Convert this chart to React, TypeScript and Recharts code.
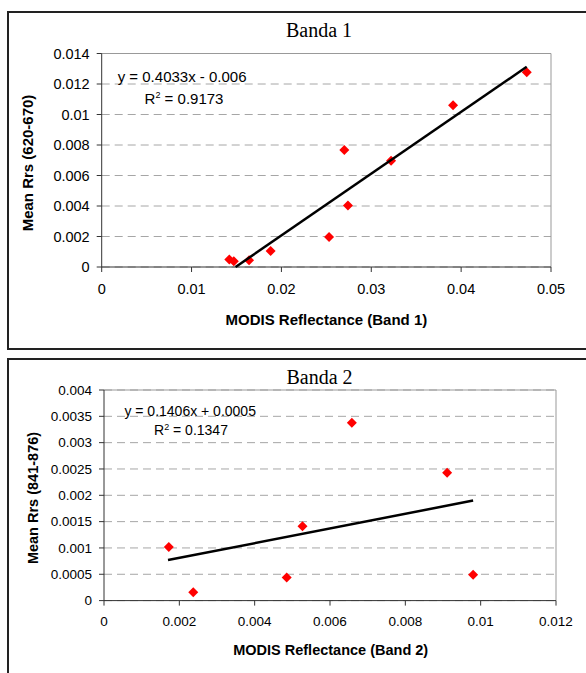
import React from 'react'
import {
  ScatterChart, Scatter, XAxis, YAxis, CartesianGrid, ReferenceLine,
} from 'recharts'

// Banda 1 (620-670)
const band1Reflectance = [0.0142, 0.0147, 0.0164, 0.0188, 0.0253, 0.0270, 0.0274, 0.0322, 0.0391, 0.0473]
const band1Rrs = [0.00049, 0.00038, 0.00044, 0.00105, 0.00197, 0.00768, 0.00404, 0.00696, 0.0106, 0.01277]
const band1TrendX = [0.0149, 0.0473]
const band1TrendY = [0, 0.01313]
const band1XTicks = [0, 0.01, 0.02, 0.03, 0.04, 0.05]
const band1YTicks = [0, 0.002, 0.004, 0.006, 0.008, 0.01, 0.012, 0.014]

// Banda 2 (841-876)
const band2Reflectance = [0.00172, 0.00237, 0.00485, 0.00527, 0.00658, 0.00911, 0.0098]
const band2Rrs = [0.00102, 0.00016, 0.00044, 0.00141, 0.00338, 0.00243, 0.00049]
const band2TrendX = [0.0017, 0.0098]
const band2TrendY = [0.00077, 0.0019]
const band2XTicks = [0, 0.002, 0.004, 0.006, 0.008, 0.01, 0.012]
const band2YTicks = [0, 0.0005, 0.001, 0.0015, 0.002, 0.0025, 0.003, 0.0035, 0.004]

const zip = (xs: number[], ys: number[]) => xs.map((x, i) => ({ x, y: ys[i] }))

const SANS = '"Liberation Sans", Arial, sans-serif'
const SERIF = '"Liberation Serif", "Times New Roman", serif'

const Diamond = (props: any) => {
  const { cx, cy } = props
  if (cx == null || cy == null) return <g />
  const r = 5
  return <path d={`M${cx},${cy - r}L${cx + r},${cy}L${cx},${cy + r}L${cx - r},${cy}Z`} fill="#ff0000" />
}

const NoDot = () => <g />

function Txt({ x, y, children, size = 15, bold = false, serif = false, left = false, rotate = false }: any) {
  return (
    <div
      style={{
        position: 'absolute',
        left: x,
        top: y,
        transform: `translate(${left ? '0' : '-50%'}, -50%)${rotate ? ' rotate(-90deg)' : ''}`,
        fontFamily: serif ? SERIF : SANS,
        fontSize: size,
        fontWeight: bold ? 'bold' : 'normal',
        whiteSpace: 'nowrap',
        color: '#000',
        lineHeight: 1,
      }}
    >
      {children}
    </div>
  )
}

interface PanelProps {
  top: number
  height: number
  margin: { top: number; right: number; bottom: number; left: number }
  points: { x: number; y: number }[]
  trend: { x: number; y: number }[]
  xTicks: number[]
  yTicks: number[]
  tickSize: number
  xTickMargin: number
  yTickMargin: number
}

function Panel({ top, height, margin, points, trend, xTicks, yTicks, tickSize, xTickMargin, yTickMargin }: PanelProps) {
  const xMax = xTicks[xTicks.length - 1]
  const yMax = yTicks[yTicks.length - 1]
  const tick = { fontSize: tickSize, fill: '#000', fontFamily: SANS }
  return (
    <div style={{ position: 'absolute', left: 0, top }}>
      <ScatterChart width={586} height={height} margin={margin}>
        <CartesianGrid vertical={false} stroke="#a6a6a6" strokeDasharray="8 5" />
        <XAxis
          type="number"
          dataKey="x"
          domain={[0, xMax]}
          ticks={xTicks}
          height={30}
          tick={tick}
          tickSize={5}
          tickMargin={xTickMargin}
          axisLine={{ stroke: '#333' }}
          tickLine={{ stroke: '#333' }}
        />
        <YAxis
          type="number"
          dataKey="y"
          domain={[0, yMax]}
          ticks={yTicks}
          width={60}
          tick={tick}
          tickSize={5}
          tickMargin={yTickMargin}
          axisLine={{ stroke: '#333' }}
          tickLine={{ stroke: '#333' }}
        />
        <ReferenceLine y={yMax} stroke="#999" />
        <ReferenceLine x={xMax} stroke="#999" />
        <Scatter data={points} shape={Diamond} isAnimationActive={false} />
        <Scatter
          data={trend}
          shape={NoDot}
          line={{ stroke: '#000', strokeWidth: 2.5 }}
          isAnimationActive={false}
        />
      </ScatterChart>
    </div>
  )
}

export default function App() {
  return (
    <div
      style={{
        position: 'absolute', left: 0, top: 0, width: 586, height: 673,
        overflow: 'hidden', background: '#fff',
      }}
    >
      {/* frames */}
      <div style={{ position: 'absolute', left: 7, top: 11, width: 620, height: 339, border: '2px solid #222', boxSizing: 'border-box' }} />
      <div style={{ position: 'absolute', left: 7, top: 357.5, width: 620, height: 360, border: '2px solid #222', boxSizing: 'border-box' }} />

      <Panel
        top={0}
        height={349}
        margin={{ top: 53.5, right: 35, bottom: 52, left: 41.7 }}
        points={zip(band1Reflectance, band1Rrs)}
        trend={zip(band1TrendX, band1TrendY)}
        xTicks={band1XTicks}
        yTicks={band1YTicks}
        tickSize={14.5}
        xTickMargin={12}
        yTickMargin={7}
      />
      <Panel
        top={349}
        height={324}
        margin={{ top: 41, right: 30, bottom: 42.4, left: 44 }}
        points={zip(band2Reflectance, band2Rrs)}
        trend={zip(band2TrendX, band2TrendY)}
        xTicks={band2XTicks}
        yTicks={band2YTicks}
        tickSize={13.5}
        xTickMargin={11}
        yTickMargin={7}
      />

      <Txt x={319} y={29.7} size={20} serif>Banda 1</Txt>
      <Txt x={117.7} y={76} size={15} left>y = 0.4033x - 0.006</Txt>
      <Txt x={144.6} y={97.7} size={15} left>R<sup style={{ fontSize: 9, verticalAlign: 'top' }}>2</sup> = 0.9173</Txt>
      <Txt x={27.3} y={163} size={15} bold rotate>Mean Rrs (620-670)</Txt>
      <Txt x={326.4} y={319} size={15} bold>MODIS Reflectance (Band 1)</Txt>

      <Txt x={319.5} y={376.7} size={20} serif>Banda 2</Txt>
      <Txt x={124.4} y={411} size={14} left>y = 0.1406x + 0.0005</Txt>
      <Txt x={154} y={430} size={14} left>R<sup style={{ fontSize: 9, verticalAlign: 'top' }}>2</sup> = 0.1347</Txt>
      <Txt x={32.9} y={498} size={14.5} bold rotate>Mean Rrs (841-876)</Txt>
      <Txt x={330.7} y={650} size={14.5} bold>MODIS Reflectance (Band 2)</Txt>
    </div>
  )
}
